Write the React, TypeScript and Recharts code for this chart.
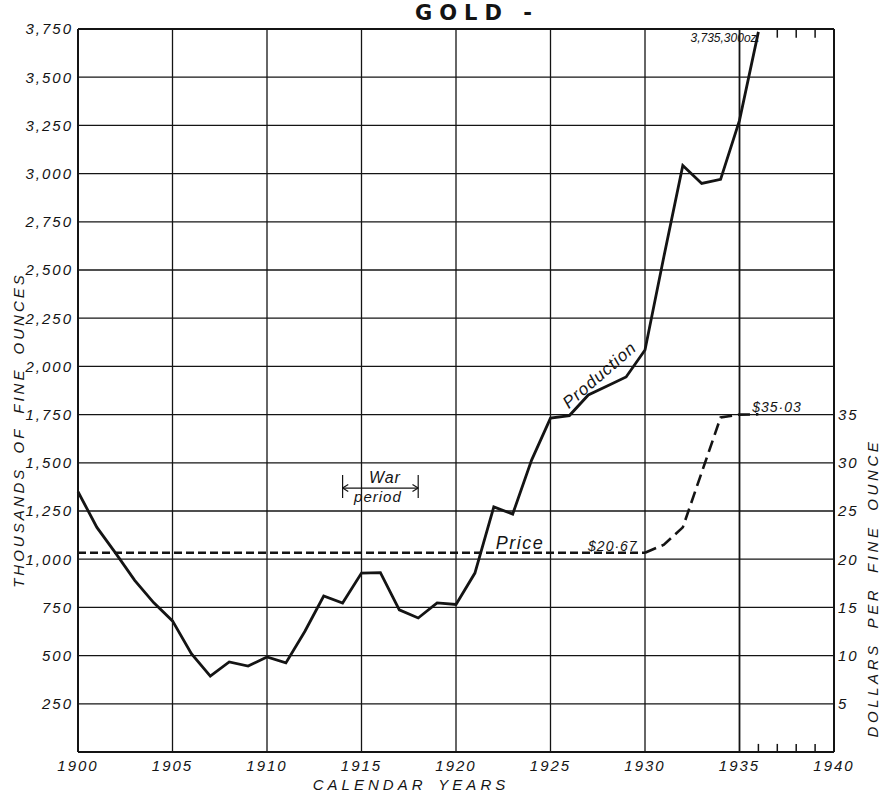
import React from 'react';
import {
  LineChart,
  Line,
  XAxis,
  YAxis,
  CartesianGrid,
  ReferenceLine,
  ReferenceDot,
} from 'recharts';

const years = [
  1900, 1901, 1902, 1903, 1904, 1905, 1906, 1907, 1908, 1909,
  1910, 1911, 1912, 1913, 1914, 1915, 1916, 1917, 1918, 1919,
  1920, 1921, 1922, 1923, 1924, 1925, 1926, 1927, 1928, 1929,
  1930, 1931, 1932, 1933, 1934, 1935, 1936,
];

// thousands of fine ounces
const production = [
  1350, 1165, 1030, 890, 775, 680, 510, 394, 467, 446,
  493, 462, 625, 809, 773, 928, 930, 737, 695, 773,
  765, 928, 1271, 1234, 1514, 1732, 1745, 1852, 1898, 1945,
  2085, 2570, 3042, 2949, 2970, 3276, 3735.3,
];

// dollars per fine ounce
const price = [
  20.67, 20.67, 20.67, 20.67, 20.67, 20.67, 20.67, 20.67, 20.67, 20.67,
  20.67, 20.67, 20.67, 20.67, 20.67, 20.67, 20.67, 20.67, 20.67, 20.67,
  20.67, 20.67, 20.67, 20.67, 20.67, 20.67, 20.67, 20.67, 20.67, 20.67,
  20.67, 21.5, 23.3, 29.0, 34.7, 35.0, 35.03,
];

const xTicks = [1900, 1905, 1910, 1915, 1920, 1925, 1930, 1935, 1940];
const leftTicks = [
  250, 500, 750, 1000, 1250, 1500, 1750, 2000, 2250, 2500, 2750, 3000, 3250, 3500, 3750,
];
const rightTicks = [5, 10, 15, 20, 25, 30, 35];
const bottomMinorYears = [1936, 1937, 1938, 1939];
const topMinorYears = [1937, 1938, 1939];

const rows = years.map((year, i) => ({ year, production: production[i], price: price[i] }));

const INK = '#141414';
const FONT = '"Liberation Sans", Arial, sans-serif';

const tickStyle = {
  fontFamily: FONT,
  fontStyle: 'italic' as const,
  fontSize: 15,
  fill: INK,
  letterSpacing: 2,
};

function note(
  key: string,
  x: number,
  y: number,
  text: string,
  opts: { size?: number; anchor?: 'start' | 'middle' | 'end'; rotate?: number; spacing?: number } = {}
) {
  const { size = 15, anchor = 'middle', rotate = 0, spacing = 1 } = opts;
  return (
    <ReferenceDot
      key={key}
      yAxisId="left"
      x={x}
      y={y}
      r={0}
      fill="none"
      stroke="none"
      ifOverflow="visible"
      label={{
        content: (p: any) => {
          const vb = p.viewBox || {};
          const cx = vb.x ?? 0;
          const cy = vb.y ?? 0;
          return (
            <text
              x={cx}
              y={cy}
              textAnchor={anchor}
              dominantBaseline="central"
              fontFamily={FONT}
              fontStyle="italic"
              fontSize={size}
              letterSpacing={spacing}
              fill={INK}
              transform={rotate ? `rotate(${rotate} ${cx} ${cy})` : undefined}
            >
              {text}
            </text>
          );
        },
      }}
    />
  );
}

export default function App() {
  return (
    <div style={{ position: 'absolute', left: 0, top: 0, width: 884, height: 796, background: '#fff' }}>
      <div
        style={{
          position: 'absolute',
          left: 415,
          top: 3,
          fontFamily: '"DejaVu Sans", sans-serif',
          fontWeight: 'bold',
          fontSize: 21,
          lineHeight: '21px',
          letterSpacing: 7,
          color: INK,
          whiteSpace: 'nowrap',
        }}
      >
        GOLD -
      </div>
      <LineChart
        width={884}
        height={796}
        data={rows}
        margin={{ top: 29, right: 0, bottom: 0, left: 0 }}
      >
        <CartesianGrid yAxisId="left" stroke={INK} strokeWidth={1.3} />
        <XAxis
          dataKey="year"
          type="number"
          domain={[1900, 1940]}
          ticks={xTicks}
          interval={0}
          height={44}
          tickLine={false}
          tickSize={6}
          tickMargin={2}
          axisLine={{ stroke: INK, strokeWidth: 2 }}
          tick={tickStyle}
          label={{
            content: (p: any) => {
              const vb = p.viewBox || {};
              return (
                <text
                  x={vb.x + vb.width / 2 - 45}
                  y={vb.y + 38}
                  textAnchor="middle"
                  fontFamily={FONT}
                  fontStyle="italic"
                  fontSize={15}
                  letterSpacing={4}
                  wordSpacing={4}
                  fill={INK}
                >
                  CALENDAR YEARS
                </text>
              );
            },
          }}
        />
        <YAxis
          yAxisId="left"
          orientation="left"
          type="number"
          domain={[0, 3750]}
          ticks={leftTicks}
          interval={0}
          width={78}
          tickLine={false}
          tickSize={3}
          tickMargin={2}
          axisLine={{ stroke: INK, strokeWidth: 2 }}
          tick={tickStyle}
          tickFormatter={(v: number) => v.toLocaleString('en-US')}
          label={{
            content: (p: any) => {
              const vb = p.viewBox || {};
              const cx = 18;
              const cy = vb.y + 401;
              return (
                <text
                  x={cx}
                  y={cy}
                  textAnchor="middle"
                  dominantBaseline="central"
                  fontFamily={FONT}
                  fontStyle="italic"
                  fontSize={15}
                  letterSpacing={3}
                  wordSpacing={6}
                  fill={INK}
                  transform={`rotate(-90 ${cx} ${cy})`}
                >
                  THOUSANDS OF FINE OUNCES
                </text>
              );
            },
          }}
        />
        <YAxis
          yAxisId="right"
          orientation="right"
          type="number"
          domain={[0, 75]}
          ticks={rightTicks}
          interval={0}
          width={50}
          tickLine={false}
          tickSize={2}
          tickMargin={2}
          axisLine={{ stroke: INK, strokeWidth: 2 }}
          tick={tickStyle}
          label={{
            content: (p: any) => {
              const vb = p.viewBox || {};
              const cx = vb.x + 38;
              const cy = vb.y + 559;
              return (
                <text
                  x={cx}
                  y={cy}
                  textAnchor="middle"
                  dominantBaseline="central"
                  fontFamily={FONT}
                  fontStyle="italic"
                  fontSize={15}
                  letterSpacing={3.6}
                  wordSpacing={6}
                  fill={INK}
                  transform={`rotate(-90 ${cx} ${cy})`}
                >
                  DOLLARS PER FINE OUNCE
                </text>
              );
            },
          }}
        />

        <ReferenceLine yAxisId="left" y={3750} stroke={INK} strokeWidth={2} />
        <ReferenceLine yAxisId="left" x={1935} stroke={INK} strokeWidth={1.6} />

        {bottomMinorYears.map((yr) => (
          <ReferenceLine
            key={`b${yr}`}
            yAxisId="left"
            segment={[
              { x: yr, y: 0 },
              { x: yr, y: 42 },
            ]}
            stroke={INK}
            strokeWidth={1.5}
          />
        ))}
        {topMinorYears.map((yr) => (
          <ReferenceLine
            key={`t${yr}`}
            yAxisId="left"
            segment={[
              { x: yr, y: 3750 },
              { x: yr, y: 3705 },
            ]}
            stroke={INK}
            strokeWidth={1.5}
          />
        ))}

        {/* War period bracket */}
        <ReferenceLine yAxisId="left" segment={[{ x: 1914, y: 1369 }, { x: 1918, y: 1369 }]} stroke={INK} strokeWidth={1.2} />
        <ReferenceLine yAxisId="left" segment={[{ x: 1914, y: 1317 }, { x: 1914, y: 1437 }]} stroke={INK} strokeWidth={1.2} />
        <ReferenceLine yAxisId="left" segment={[{ x: 1918, y: 1317 }, { x: 1918, y: 1437 }]} stroke={INK} strokeWidth={1.2} />
        <ReferenceLine yAxisId="left" segment={[{ x: 1914, y: 1369 }, { x: 1914.3, y: 1387 }]} stroke={INK} strokeWidth={1.2} />
        <ReferenceLine yAxisId="left" segment={[{ x: 1914, y: 1369 }, { x: 1914.3, y: 1351 }]} stroke={INK} strokeWidth={1.2} />
        <ReferenceLine yAxisId="left" segment={[{ x: 1918, y: 1369 }, { x: 1917.7, y: 1387 }]} stroke={INK} strokeWidth={1.2} />
        <ReferenceLine yAxisId="left" segment={[{ x: 1918, y: 1369 }, { x: 1917.7, y: 1351 }]} stroke={INK} strokeWidth={1.2} />

        <Line
          yAxisId="left"
          type="linear"
          dataKey="production"
          name="Production"
          stroke={INK}
          strokeWidth={2.8}
          dot={false}
          activeDot={false}
          isAnimationActive={false}
        />
        <Line
          yAxisId="right"
          type="linear"
          dataKey={(d: any) => (d.year <= 1930 ? d.price : null)}
          name="Price (fixed)"
          stroke={INK}
          strokeWidth={2.6}
          strokeDasharray="8 4"
          dot={false}
          activeDot={false}
          isAnimationActive={false}
        />
        <Line
          yAxisId="right"
          type="linear"
          dataKey={(d: any) => (d.year >= 1930 ? d.price : null)}
          name="Price (revalued)"
          stroke={INK}
          strokeWidth={2.6}
          strokeDasharray="12 6"
          dot={false}
          activeDot={false}
          isAnimationActive={false}
        />

        {note('war', 1916.24, 1426, 'War', { size: 16 })}
        {note('period', 1915.87, 1323, 'period', { size: 15 })}
        {note('price', 1923.39, 1084, 'Price', { size: 18, spacing: 1.5 })}
        {note('p2067', 1928.3, 1068, '$20·67', { size: 14 })}
        {note('p3503', 1936.98, 1789, '$35·03', { size: 14 })}
        {note('prod', 1927.6, 1955, 'Production', { size: 17, rotate: -41, spacing: 1 })}
        {note('total', 1936.08, 3703, '3,735,300oz.', { size: 12, anchor: 'end', spacing: 0 })}
      </LineChart>
    </div>
  );
}
